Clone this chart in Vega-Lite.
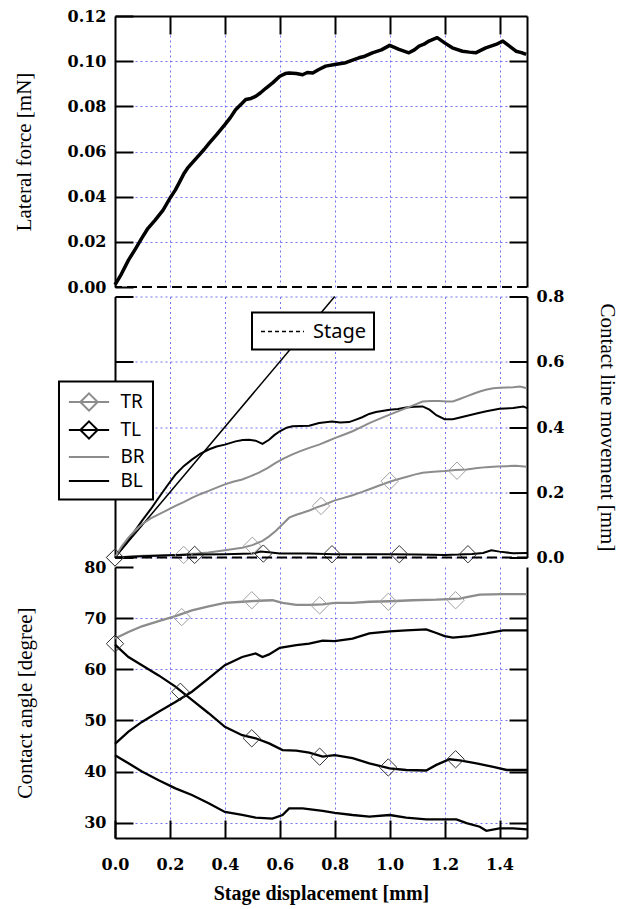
{
  "$schema": "https://vega.github.io/schema/vega-lite/v6.json",
  "background": "white",
  "padding": {"left": 13, "top": 8, "right": 5, "bottom": 5},
  "config": {
    "view": {"stroke": null},
    "axis": {
      "domainColor": "black", "domainWidth": 2,
      "tickColor": "black", "tickWidth": 2, "tickSize": -18,
      "gridColor": "#7272f2", "gridDash": [2, 3], "gridWidth": 1,
      "labelFont": "DejaVu Serif", "labelFontWeight": "bold", "labelFontSize": 16, "labelColor": "black",
      "titleFont": "Liberation Serif", "titleFontSize": 21, "titleFontWeight": "normal", "titleColor": "black",
      "labelPadding": 27, "labelFlush": false, "labelOverlap": false
    }
  },
  "datasets": {
    "force": [
      {"x": 0, "force": 0.001}, {"x": 0.02, "force": 0.005}, {"x": 0.049, "force": 0.0119}, {"x": 0.075, "force": 0.017},
      {"x": 0.097, "force": 0.0215}, {"x": 0.12, "force": 0.026}, {"x": 0.146, "force": 0.0296}, {"x": 0.175, "force": 0.034},
      {"x": 0.2, "force": 0.0393}, {"x": 0.22, "force": 0.043}, {"x": 0.233, "force": 0.046}, {"x": 0.25, "force": 0.05},
      {"x": 0.264, "force": 0.0526}, {"x": 0.285, "force": 0.0555}, {"x": 0.307, "force": 0.0585}, {"x": 0.325, "force": 0.061},
      {"x": 0.343, "force": 0.0637}, {"x": 0.37, "force": 0.0675}, {"x": 0.4, "force": 0.0719}, {"x": 0.42, "force": 0.075},
      {"x": 0.439, "force": 0.0785}, {"x": 0.46, "force": 0.081}, {"x": 0.476, "force": 0.083}, {"x": 0.495, "force": 0.0835},
      {"x": 0.512, "force": 0.0844}, {"x": 0.53, "force": 0.086}, {"x": 0.549, "force": 0.088}, {"x": 0.575, "force": 0.0905},
      {"x": 0.6, "force": 0.0933}, {"x": 0.62, "force": 0.0945}, {"x": 0.634, "force": 0.0948}, {"x": 0.66, "force": 0.0945},
      {"x": 0.683, "force": 0.094}, {"x": 0.7, "force": 0.095}, {"x": 0.72, "force": 0.0948}, {"x": 0.742, "force": 0.0963},
      {"x": 0.767, "force": 0.0978}, {"x": 0.8, "force": 0.0985}, {"x": 0.84, "force": 0.0993}, {"x": 0.865, "force": 0.1005},
      {"x": 0.888, "force": 0.1015}, {"x": 0.91, "force": 0.1022}, {"x": 0.937, "force": 0.1037}, {"x": 0.97, "force": 0.105},
      {"x": 1.0, "force": 0.107}, {"x": 1.034, "force": 0.1052}, {"x": 1.07, "force": 0.1037}, {"x": 1.09, "force": 0.105},
      {"x": 1.107, "force": 0.1067}, {"x": 1.125, "force": 0.1075}, {"x": 1.143, "force": 0.1089}, {"x": 1.173, "force": 0.1104},
      {"x": 1.2, "force": 0.1081}, {"x": 1.228, "force": 0.1059}, {"x": 1.265, "force": 0.1044}, {"x": 1.29, "force": 0.104},
      {"x": 1.313, "force": 0.1037}, {"x": 1.335, "force": 0.105}, {"x": 1.35, "force": 0.1059}, {"x": 1.387, "force": 0.1074},
      {"x": 1.412, "force": 0.1089}, {"x": 1.436, "force": 0.1067}, {"x": 1.46, "force": 0.1044}, {"x": 1.48, "force": 0.1038},
      {"x": 1.497, "force": 0.103}
    ],
    "stage": [
      {"x": 0, "y": 0, "name": "Stage"}, {"x": 0.8, "y": 0.8, "name": "Stage"}
    ],
    "movement": [
      {"series": "BL", "x": 0, "y": 0}, {"series": "BL", "x": 0.05, "y": 0.055}, {"series": "BL", "x": 0.098, "y": 0.112},
      {"series": "BL", "x": 0.13, "y": 0.148}, {"series": "BL", "x": 0.159, "y": 0.183}, {"series": "BL", "x": 0.19, "y": 0.22},
      {"series": "BL", "x": 0.22, "y": 0.254}, {"series": "BL", "x": 0.25, "y": 0.28}, {"series": "BL", "x": 0.28, "y": 0.3},
      {"series": "BL", "x": 0.31, "y": 0.318}, {"series": "BL", "x": 0.341, "y": 0.331}, {"series": "BL", "x": 0.37, "y": 0.34},
      {"series": "BL", "x": 0.4, "y": 0.346}, {"series": "BL", "x": 0.439, "y": 0.356}, {"series": "BL", "x": 0.465, "y": 0.36},
      {"series": "BL", "x": 0.488, "y": 0.361}, {"series": "BL", "x": 0.512, "y": 0.358}, {"series": "BL", "x": 0.537, "y": 0.348},
      {"series": "BL", "x": 0.561, "y": 0.361}, {"series": "BL", "x": 0.58, "y": 0.375}, {"series": "BL", "x": 0.6, "y": 0.387},
      {"series": "BL", "x": 0.625, "y": 0.398}, {"series": "BL", "x": 0.646, "y": 0.402}, {"series": "BL", "x": 0.675, "y": 0.403},
      {"series": "BL", "x": 0.707, "y": 0.404}, {"series": "BL", "x": 0.743, "y": 0.412}, {"series": "BL", "x": 0.79, "y": 0.417},
      {"series": "BL", "x": 0.82, "y": 0.414}, {"series": "BL", "x": 0.852, "y": 0.415}, {"series": "BL", "x": 0.875, "y": 0.422},
      {"series": "BL", "x": 0.9, "y": 0.43}, {"series": "BL", "x": 0.925, "y": 0.44}, {"series": "BL", "x": 0.95, "y": 0.446},
      {"series": "BL", "x": 1.0, "y": 0.453}, {"series": "BL", "x": 1.03, "y": 0.455}, {"series": "BL", "x": 1.06, "y": 0.46},
      {"series": "BL", "x": 1.09, "y": 0.462}, {"series": "BL", "x": 1.12, "y": 0.463}, {"series": "BL", "x": 1.145, "y": 0.453},
      {"series": "BL", "x": 1.17, "y": 0.436}, {"series": "BL", "x": 1.2, "y": 0.424}, {"series": "BL", "x": 1.23, "y": 0.424},
      {"series": "BL", "x": 1.26, "y": 0.43}, {"series": "BL", "x": 1.29, "y": 0.436}, {"series": "BL", "x": 1.32, "y": 0.442},
      {"series": "BL", "x": 1.352, "y": 0.448}, {"series": "BL", "x": 1.4, "y": 0.456}, {"series": "BL", "x": 1.45, "y": 0.458},
      {"series": "BL", "x": 1.487, "y": 0.463}, {"series": "BL", "x": 1.5, "y": 0.458},

      {"series": "BR", "x": 0, "y": 0}, {"series": "BR", "x": 0.025, "y": 0.035}, {"series": "BR", "x": 0.049, "y": 0.061},
      {"series": "BR", "x": 0.075, "y": 0.085}, {"series": "BR", "x": 0.098, "y": 0.102}, {"series": "BR", "x": 0.13, "y": 0.12},
      {"series": "BR", "x": 0.159, "y": 0.132}, {"series": "BR", "x": 0.19, "y": 0.145}, {"series": "BR", "x": 0.22, "y": 0.158},
      {"series": "BR", "x": 0.25, "y": 0.17}, {"series": "BR", "x": 0.28, "y": 0.183}, {"series": "BR", "x": 0.31, "y": 0.194},
      {"series": "BR", "x": 0.341, "y": 0.204}, {"series": "BR", "x": 0.37, "y": 0.214}, {"series": "BR", "x": 0.4, "y": 0.224},
      {"series": "BR", "x": 0.43, "y": 0.232}, {"series": "BR", "x": 0.463, "y": 0.239}, {"series": "BR", "x": 0.49, "y": 0.248},
      {"series": "BR", "x": 0.524, "y": 0.26}, {"series": "BR", "x": 0.555, "y": 0.274}, {"series": "BR", "x": 0.585, "y": 0.29},
      {"series": "BR", "x": 0.615, "y": 0.304}, {"series": "BR", "x": 0.646, "y": 0.316}, {"series": "BR", "x": 0.675, "y": 0.326},
      {"series": "BR", "x": 0.707, "y": 0.336}, {"series": "BR", "x": 0.743, "y": 0.346}, {"series": "BR", "x": 0.775, "y": 0.357},
      {"series": "BR", "x": 0.8, "y": 0.366}, {"series": "BR", "x": 0.835, "y": 0.377}, {"series": "BR", "x": 0.865, "y": 0.387},
      {"series": "BR", "x": 0.9, "y": 0.401}, {"series": "BR", "x": 0.926, "y": 0.412}, {"series": "BR", "x": 0.96, "y": 0.424},
      {"series": "BR", "x": 1.0, "y": 0.438}, {"series": "BR", "x": 1.03, "y": 0.448}, {"series": "BR", "x": 1.06, "y": 0.458},
      {"series": "BR", "x": 1.09, "y": 0.468}, {"series": "BR", "x": 1.12, "y": 0.478}, {"series": "BR", "x": 1.15, "y": 0.48},
      {"series": "BR", "x": 1.18, "y": 0.48}, {"series": "BR", "x": 1.21, "y": 0.478}, {"series": "BR", "x": 1.23, "y": 0.478},
      {"series": "BR", "x": 1.255, "y": 0.486}, {"series": "BR", "x": 1.28, "y": 0.494}, {"series": "BR", "x": 1.305, "y": 0.502},
      {"series": "BR", "x": 1.328, "y": 0.509}, {"series": "BR", "x": 1.35, "y": 0.514}, {"series": "BR", "x": 1.377, "y": 0.519},
      {"series": "BR", "x": 1.4, "y": 0.52}, {"series": "BR", "x": 1.426, "y": 0.521}, {"series": "BR", "x": 1.45, "y": 0.522},
      {"series": "BR", "x": 1.474, "y": 0.524}, {"series": "BR", "x": 1.5, "y": 0.519},

      {"series": "TR", "x": 0, "y": 0}, {"series": "TR", "x": 0.1, "y": 0.005}, {"series": "TR", "x": 0.22, "y": 0.008},
      {"series": "TR", "x": 0.3, "y": 0.012}, {"series": "TR", "x": 0.34, "y": 0.015}, {"series": "TR", "x": 0.4, "y": 0.022},
      {"series": "TR", "x": 0.463, "y": 0.03}, {"series": "TR", "x": 0.5, "y": 0.038}, {"series": "TR", "x": 0.537, "y": 0.051},
      {"series": "TR", "x": 0.56, "y": 0.064}, {"series": "TR", "x": 0.585, "y": 0.081}, {"series": "TR", "x": 0.61, "y": 0.102},
      {"series": "TR", "x": 0.634, "y": 0.122}, {"series": "TR", "x": 0.66, "y": 0.131}, {"series": "TR", "x": 0.683, "y": 0.137},
      {"series": "TR", "x": 0.71, "y": 0.145}, {"series": "TR", "x": 0.732, "y": 0.153}, {"series": "TR", "x": 0.76, "y": 0.161},
      {"series": "TR", "x": 0.8, "y": 0.175}, {"series": "TR", "x": 0.83, "y": 0.182}, {"series": "TR", "x": 0.865, "y": 0.191},
      {"series": "TR", "x": 0.9, "y": 0.201}, {"series": "TR", "x": 0.926, "y": 0.209}, {"series": "TR", "x": 0.96, "y": 0.22},
      {"series": "TR", "x": 1.0, "y": 0.232}, {"series": "TR", "x": 1.03, "y": 0.24}, {"series": "TR", "x": 1.06, "y": 0.247},
      {"series": "TR", "x": 1.09, "y": 0.254}, {"series": "TR", "x": 1.12, "y": 0.26}, {"series": "TR", "x": 1.16, "y": 0.263},
      {"series": "TR", "x": 1.2, "y": 0.265}, {"series": "TR", "x": 1.24, "y": 0.268}, {"series": "TR", "x": 1.28, "y": 0.27},
      {"series": "TR", "x": 1.32, "y": 0.274}, {"series": "TR", "x": 1.352, "y": 0.277}, {"series": "TR", "x": 1.39, "y": 0.279},
      {"series": "TR", "x": 1.426, "y": 0.28}, {"series": "TR", "x": 1.46, "y": 0.281}, {"series": "TR", "x": 1.5, "y": 0.278},

      {"series": "TL", "x": 0, "y": 0}, {"series": "TL", "x": 0.1, "y": 0.004}, {"series": "TL", "x": 0.2, "y": 0.007},
      {"series": "TL", "x": 0.3, "y": 0.009}, {"series": "TL", "x": 0.4, "y": 0.01}, {"series": "TL", "x": 0.5, "y": 0.012},
      {"series": "TL", "x": 0.53, "y": 0.018}, {"series": "TL", "x": 0.56, "y": 0.016}, {"series": "TL", "x": 0.6, "y": 0.012},
      {"series": "TL", "x": 0.7, "y": 0.012}, {"series": "TL", "x": 0.8, "y": 0.01}, {"series": "TL", "x": 0.9, "y": 0.01},
      {"series": "TL", "x": 1.0, "y": 0.01}, {"series": "TL", "x": 1.1, "y": 0.009}, {"series": "TL", "x": 1.2, "y": 0.008},
      {"series": "TL", "x": 1.25, "y": 0.009}, {"series": "TL", "x": 1.3, "y": 0.011}, {"series": "TL", "x": 1.34, "y": 0.014},
      {"series": "TL", "x": 1.37, "y": 0.022}, {"series": "TL", "x": 1.4, "y": 0.018}, {"series": "TL", "x": 1.45, "y": 0.013},
      {"series": "TL", "x": 1.5, "y": 0.014}
    ],
    "mv_markers": [
      {"series": "TR", "x": 0, "y": 0}, {"series": "TR", "x": 0.25, "y": 0.008}, {"series": "TR", "x": 0.5, "y": 0.036},
      {"series": "TR", "x": 0.75, "y": 0.158}, {"series": "TR", "x": 1.0, "y": 0.234}, {"series": "TR", "x": 1.245, "y": 0.266},
      {"series": "TL", "x": 0, "y": 0}, {"series": "TL", "x": 0.29, "y": 0.008}, {"series": "TL", "x": 0.54, "y": 0.012},
      {"series": "TL", "x": 0.79, "y": 0.01}, {"series": "TL", "x": 1.035, "y": 0.01}, {"series": "TL", "x": 1.285, "y": 0.01}
    ],
    "angle": [
      {"series": "TR", "x": 0, "y": 66.0}, {"series": "TR", "x": 0.049, "y": 67.3}, {"series": "TR", "x": 0.098, "y": 68.4},
      {"series": "TR", "x": 0.159, "y": 69.4}, {"series": "TR", "x": 0.22, "y": 70.4}, {"series": "TR", "x": 0.28, "y": 71.5},
      {"series": "TR", "x": 0.341, "y": 72.3}, {"series": "TR", "x": 0.4, "y": 73.0}, {"series": "TR", "x": 0.463, "y": 73.2},
      {"series": "TR", "x": 0.524, "y": 73.4}, {"series": "TR", "x": 0.573, "y": 73.5}, {"series": "TR", "x": 0.61, "y": 73.0},
      {"series": "TR", "x": 0.66, "y": 72.6}, {"series": "TR", "x": 0.707, "y": 72.6}, {"series": "TR", "x": 0.756, "y": 72.7},
      {"series": "TR", "x": 0.8, "y": 73.0}, {"series": "TR", "x": 0.865, "y": 73.0}, {"series": "TR", "x": 0.926, "y": 73.2},
      {"series": "TR", "x": 1.0, "y": 73.3}, {"series": "TR", "x": 1.084, "y": 73.5}, {"series": "TR", "x": 1.17, "y": 73.6},
      {"series": "TR", "x": 1.255, "y": 73.8}, {"series": "TR", "x": 1.29, "y": 74.2}, {"series": "TR", "x": 1.328, "y": 74.6},
      {"series": "TR", "x": 1.413, "y": 74.7}, {"series": "TR", "x": 1.5, "y": 74.7},

      {"series": "BL", "x": 0, "y": 45.4}, {"series": "BL", "x": 0.049, "y": 47.8}, {"series": "BL", "x": 0.098, "y": 49.7},
      {"series": "BL", "x": 0.159, "y": 51.7}, {"series": "BL", "x": 0.22, "y": 53.6}, {"series": "BL", "x": 0.28, "y": 55.6},
      {"series": "BL", "x": 0.341, "y": 58.2}, {"series": "BL", "x": 0.4, "y": 60.8}, {"series": "BL", "x": 0.463, "y": 62.4},
      {"series": "BL", "x": 0.512, "y": 63.1}, {"series": "BL", "x": 0.537, "y": 62.4}, {"series": "BL", "x": 0.561, "y": 62.9},
      {"series": "BL", "x": 0.6, "y": 64.2}, {"series": "BL", "x": 0.66, "y": 64.7}, {"series": "BL", "x": 0.707, "y": 65.0},
      {"series": "BL", "x": 0.756, "y": 65.6}, {"series": "BL", "x": 0.8, "y": 65.5}, {"series": "BL", "x": 0.865, "y": 66.0},
      {"series": "BL", "x": 0.926, "y": 67.0}, {"series": "BL", "x": 1.0, "y": 67.4}, {"series": "BL", "x": 1.06, "y": 67.6},
      {"series": "BL", "x": 1.133, "y": 67.8}, {"series": "BL", "x": 1.17, "y": 67.1}, {"series": "BL", "x": 1.2, "y": 66.5},
      {"series": "BL", "x": 1.23, "y": 66.2}, {"series": "BL", "x": 1.29, "y": 66.5}, {"series": "BL", "x": 1.352, "y": 67.0},
      {"series": "BL", "x": 1.413, "y": 67.6}, {"series": "BL", "x": 1.5, "y": 67.6},

      {"series": "TL", "x": 0, "y": 64.8}, {"series": "TL", "x": 0.049, "y": 62.4}, {"series": "TL", "x": 0.098, "y": 60.8},
      {"series": "TL", "x": 0.159, "y": 58.8}, {"series": "TL", "x": 0.22, "y": 56.6}, {"series": "TL", "x": 0.28, "y": 54.0},
      {"series": "TL", "x": 0.341, "y": 51.4}, {"series": "TL", "x": 0.4, "y": 48.75}, {"series": "TL", "x": 0.463, "y": 47.1},
      {"series": "TL", "x": 0.512, "y": 46.5}, {"series": "TL", "x": 0.561, "y": 45.5}, {"series": "TL", "x": 0.61, "y": 44.2},
      {"series": "TL", "x": 0.66, "y": 44.1}, {"series": "TL", "x": 0.707, "y": 43.7}, {"series": "TL", "x": 0.756, "y": 42.9},
      {"series": "TL", "x": 0.8, "y": 43.2}, {"series": "TL", "x": 0.865, "y": 42.6}, {"series": "TL", "x": 0.926, "y": 41.6},
      {"series": "TL", "x": 1.0, "y": 40.6}, {"series": "TL", "x": 1.06, "y": 40.3}, {"series": "TL", "x": 1.133, "y": 40.2},
      {"series": "TL", "x": 1.17, "y": 41.3}, {"series": "TL", "x": 1.218, "y": 42.4}, {"series": "TL", "x": 1.255, "y": 42.2},
      {"series": "TL", "x": 1.316, "y": 41.6}, {"series": "TL", "x": 1.377, "y": 40.9}, {"series": "TL", "x": 1.426, "y": 40.3},
      {"series": "TL", "x": 1.5, "y": 40.3},

      {"series": "BR", "x": 0, "y": 43.2}, {"series": "BR", "x": 0.049, "y": 41.6}, {"series": "BR", "x": 0.098, "y": 40.0},
      {"series": "BR", "x": 0.159, "y": 38.3}, {"series": "BR", "x": 0.22, "y": 36.7}, {"series": "BR", "x": 0.28, "y": 35.4},
      {"series": "BR", "x": 0.341, "y": 33.8}, {"series": "BR", "x": 0.4, "y": 32.1}, {"series": "BR", "x": 0.463, "y": 31.5},
      {"series": "BR", "x": 0.512, "y": 31.0}, {"series": "BR", "x": 0.573, "y": 30.8}, {"series": "BR", "x": 0.61, "y": 31.5},
      {"series": "BR", "x": 0.634, "y": 32.8}, {"series": "BR", "x": 0.683, "y": 32.8}, {"series": "BR", "x": 0.756, "y": 32.3},
      {"series": "BR", "x": 0.8, "y": 31.9}, {"series": "BR", "x": 0.865, "y": 31.5}, {"series": "BR", "x": 0.926, "y": 31.2},
      {"series": "BR", "x": 1.0, "y": 31.5}, {"series": "BR", "x": 1.06, "y": 31.0}, {"series": "BR", "x": 1.133, "y": 30.65},
      {"series": "BR", "x": 1.2, "y": 30.65}, {"series": "BR", "x": 1.243, "y": 30.65}, {"series": "BR", "x": 1.28, "y": 29.9},
      {"series": "BR", "x": 1.328, "y": 29.2}, {"series": "BR", "x": 1.352, "y": 28.4}, {"series": "BR", "x": 1.4, "y": 28.9},
      {"series": "BR", "x": 1.45, "y": 28.9}, {"series": "BR", "x": 1.5, "y": 28.7}
    ],
    "ang_markers": [
      {"series": "TR", "x": 0.243, "y": 70.2}, {"series": "TR", "x": 0.498, "y": 73.5}, {"series": "TR", "x": 0.745, "y": 72.5},
      {"series": "TR", "x": 0.995, "y": 73.2}, {"series": "TR", "x": 1.24, "y": 73.5},
      {"series": "TL", "x": 0, "y": 65.0}, {"series": "TL", "x": 0.238, "y": 55.6}, {"series": "TL", "x": 0.498, "y": 46.5},
      {"series": "TL", "x": 0.745, "y": 42.9}, {"series": "TL", "x": 0.995, "y": 40.8}, {"series": "TL", "x": 1.24, "y": 42.4}
    ],
    "zero": [{"y": 0}]
  },
  "spacing": 9.5,
  "bounds": "flush",
  "resolve": {
    "scale": {"x": "independent", "y": "independent", "color": "independent"},
    "legend": {"color": "independent"}
  },
  "vconcat": [
    {
      "width": 412,
      "height": 271,
      "encoding": {
        "x": {"field": "x", "type": "quantitative", "scale": {"domain": [0, 1.5], "nice": false, "zero": false},
          "axis": {"orient": "top", "values": [0.2, 0.4, 0.6, 0.8, 1.0, 1.2, 1.4], "labels": false, "grid": true, "title": null}}
      },
      "layer": [
        {
          "data": {"name": "force"},
          "mark": {"type": "line", "color": "black", "strokeWidth": 3.5, "strokeJoin": "round"},
          "encoding": {
            "y": {"field": "force", "type": "quantitative", "scale": {"domain": [0, 0.12], "nice": false},
              "axis": {"orient": "left", "values": [0, 0.02, 0.04, 0.06, 0.08, 0.1, 0.12], "format": ".2f", "grid": false,
                "title": "Lateral force [mN]", "titlePadding": 33}}
          }
        },
        {
          "data": {"name": "zero"},
          "mark": {"type": "rule", "color": "black", "strokeWidth": 2, "strokeDash": [10, 5]},
          "encoding": {
            "x": null,
            "y": {"field": "y", "type": "quantitative",
              "axis": {"orient": "right", "values": [0.02, 0.04, 0.06, 0.08, 0.1], "labels": false, "grid": true, "title": null}}
          }
        }
      ],
      "resolve": {"axis": {"y": "independent"}}
    },
    {
      "width": 412,
      "height": 261,
      "encoding": {
        "x": {"field": "x", "type": "quantitative", "scale": {"domain": [0, 1.5], "nice": false, "zero": false},
          "axis": {"orient": "bottom", "values": [0.2, 0.4, 0.6, 0.8, 1.0, 1.2, 1.4], "labels": false, "ticks": false, "domain": false, "grid": true, "title": null}}
      },
      "layer": [
        {
          "data": {"name": "stage"},
          "mark": {"type": "line", "strokeWidth": 1.5},
          "encoding": {
            "y": {"field": "y", "type": "quantitative", "scale": {"domain": [0, 0.8], "nice": false},
              "axis": {"orient": "left", "values": [0, 0.2, 0.4, 0.6, 0.8], "labels": false, "grid": true, "title": null}},
            "color": {"field": "name", "type": "nominal", "scale": {"domain": ["Stage"], "range": ["black"]},
              "legend": {"title": null, "orient": "none", "legendX": 137, "legendY": 16, "fillColor": "white", "strokeColor": "black",
                "padding": 8, "symbolOffset": 11.5, "labelOffset": 19.5, "symbolSize": 400, "symbolStrokeWidth": 1.5,
                "symbolDash": [4, 3], "symbolType": "M-2.15,0H2.15", "labelFont": "Noto Sans", "labelFontSize": 20, "labelColor": "black",
                "encode": {"legend": {"update": {"strokeWidth": {"value": 2}}}}}}
          }
        },
        {
          "data": {"name": "movement"},
          "mark": {"type": "line", "strokeWidth": 2},
          "encoding": {
            "y": {"field": "y", "type": "quantitative",
              "axis": {"orient": "right", "values": [0, 0.2, 0.4, 0.6, 0.8], "format": ".1f", "grid": false,
                "title": "Contact line movement [mm]", "titleAngle": 90, "titlePadding": 33}},
            "color": {"field": "series", "type": "nominal",
              "scale": {"domain": ["TR", "TL", "BR", "BL"], "range": ["#8c8c8c", "#000000", "#8c8c8c", "#000000"]},
              "legend": {"title": null, "orient": "none", "legendX": -56, "legendY": 85, "direction": "vertical",
                "fillColor": "white", "strokeColor": "black", "padding": 8, "symbolOffset": 9.5, "labelOffset": 19,
                "rowPadding": 1, "symbolSize": 529, "symbolStrokeWidth": 2, "symbolFillColor": "transparent",
                "labelFont": "Noto Sans", "labelFontSize": 19, "labelColor": "black",
                "encode": {
                  "legend": {"update": {"strokeWidth": {"value": 2}}},
                  "symbols": {"update": {"shape": {"signal": "indexof(['TR','TL'], datum.value) >= 0 ? 'M-1.75,0H1.75M0,-0.75L0.75,0L0,0.75L-0.75,0Z' : 'M-1.75,0H1.75'"}}}}}}
          }
        },
        {
          "data": {"name": "mv_markers"},
          "mark": {"type": "point", "shape": "diamond", "filled": false, "size": 300, "strokeWidth": 1, "opacity": 1},
          "encoding": {
            "y": {"field": "y", "type": "quantitative", "axis": null},
            "color": {"field": "series", "type": "nominal", "scale": {"domain": ["TR", "TL"], "range": ["#a0a0a0", "#333333"]}, "legend": null}
          }
        },
        {
          "data": {"name": "zero"},
          "mark": {"type": "rule", "color": "black", "strokeWidth": 2, "strokeDash": [10, 5]},
          "encoding": {"x": null, "y": {"field": "y", "type": "quantitative", "axis": null}}
        }
      ],
      "resolve": {"scale": {"color": "independent"}, "axis": {"y": "independent"}, "legend": {"color": "independent"}}
    },
    {
      "width": 412,
      "height": 271,
      "encoding": {
        "x": {"field": "x", "type": "quantitative", "scale": {"domain": [0, 1.5], "nice": false, "zero": false},
          "axis": {"orient": "bottom", "values": [0, 0.2, 0.4, 0.6, 0.8, 1.0, 1.2, 1.4], "format": ".1f", "grid": true,
            "labelPadding": 36, "title": "Stage displacement [mm]", "titleFontWeight": "bold", "titleFontSize": 20, "titlePadding": 11}}
      },
      "layer": [
        {
          "data": {"name": "angle"},
          "mark": {"type": "line", "strokeWidth": 2.3},
          "encoding": {
            "y": {"field": "y", "type": "quantitative", "scale": {"domain": [27, 80], "nice": false, "zero": false},
              "axis": {"orient": "left", "values": [30, 40, 50, 60, 70, 80], "format": "d", "grid": false,
                "title": "Contact angle [degree]", "titlePadding": 48}},
            "color": {"field": "series", "type": "nominal",
              "scale": {"domain": ["TR", "TL", "BR", "BL"], "range": ["#8c8c8c", "#000000", "#000000", "#000000"]}, "legend": null}
          }
        },
        {
          "data": {"name": "ang_markers"},
          "mark": {"type": "point", "shape": "diamond", "filled": false, "size": 300, "strokeWidth": 1, "opacity": 1},
          "encoding": {
            "y": {"field": "y", "type": "quantitative",
              "axis": {"orient": "right", "values": [30, 40, 50, 60, 70], "labels": false, "grid": true, "title": null}},
            "color": {"field": "series", "type": "nominal", "scale": {"domain": ["TR", "TL"], "range": ["#a0a0a0", "#333333"]}, "legend": null}
          }
        }
      ],
      "resolve": {"scale": {"color": "independent"}, "axis": {"y": "independent"}}
    }
  ]
}
